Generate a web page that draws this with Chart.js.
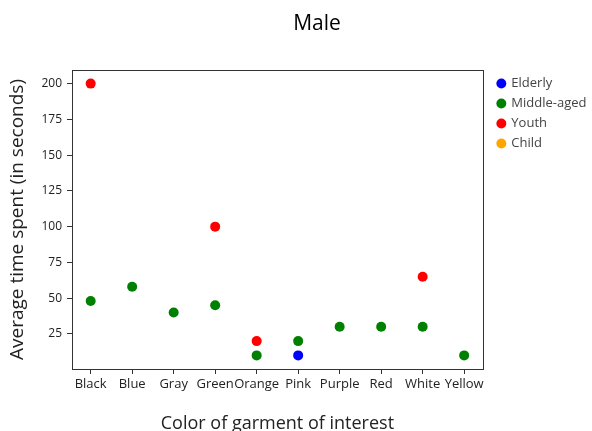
<!DOCTYPE html>
<html>
<head>
<meta charset="utf-8">
<script src="https://cdn.jsdelivr.net/npm/chart.js@4.4.0/dist/chart.umd.min.js"></script>
<style>
  html, body { margin: 0; padding: 0; background: #fff; }
  #wrap { width: 592px; height: 431px; }
</style>
</head>
<body>
<div id="wrap"><canvas id="scatterChart" width="592" height="431"></canvas></div>
<script>
// Data (seconds per garment colour)
const colours = ['Black', 'Blue', 'Gray', 'Green', 'Orange', 'Pink', 'Purple', 'Red', 'White', 'Yellow'];
const elderlyTime = [null, null, null, null, null, 10, null, null, null, null];
const middleAgedTime = [48, 58, 40, 45, 10, 20, 30, 30, 30, 10];
const youthTime = [200, null, null, 100, 20, null, null, null, 65, null];
const childTime = [null, null, null, null, null, null, null, null, null, null];
const yTicks = [25, 50, 75, 100, 125, 150, 175, 200];

const FONT = "'Open Sans', 'Noto Sans', sans-serif";

// turn a value list into {x, y} points, skipping gaps
function toPoints(values) {
  return values
    .map((v, i) => (v === null ? null : { x: i, y: v }))
    .filter(p => p !== null);
}

function makeSet(label, values, colour) {
  return {
    label: label,
    data: toPoints(values),
    backgroundColor: colour,
    borderColor: colour,
    pointRadius: 5,
    pointHoverRadius: 5,
    pointBorderWidth: 0
  };
}

// matplotlib-style box round the axes plus the figure title
const framePlugin = {
  id: 'frame',
  beforeDatasetsDraw(chart) {
    const a = chart.chartArea;
    const ctx = chart.ctx;
    ctx.save();
    ctx.strokeStyle = '#333';
    ctx.lineWidth = 1;
    ctx.strokeRect(Math.round(a.left) + 0.5, Math.round(a.top) + 0.5,
      Math.round(a.right - a.left), Math.round(a.bottom - a.top));
    ctx.restore();
  },
  afterDraw(chart) {
    const ctx = chart.ctx;
    ctx.save();
    ctx.fillStyle = '#000';
    ctx.font = '21px ' + FONT;
    ctx.textAlign = 'center';
    ctx.textBaseline = 'middle';
    ctx.fillText('Male', 317, 24);
    ctx.restore();
  }
};

const ctx = document.getElementById('scatterChart').getContext('2d');
const chart = new Chart(ctx, {
  type: 'scatter',
  data: {
    datasets: [
      makeSet('Elderly', elderlyTime, '#0000ff'),
      makeSet('Middle-aged', middleAgedTime, '#008000'),
      makeSet('Youth', youthTime, '#ff0000'),
      makeSet('Child', childTime, '#ffa500')
    ]
  },
  options: {
    responsive: false,
    animation: false,
    devicePixelRatio: 1,
    layout: { padding: { top: 70, left: 0, right: 3, bottom: -4 } },
    plugins: {
      tooltip: { enabled: false },
      legend: {
        position: 'right',
        align: 'start',
        labels: {
          usePointStyle: true,
          pointStyle: 'circle',
          boxWidth: 7,
          boxHeight: 7,
          padding: 7,
          color: '#444',
          font: { family: FONT, size: 13 }
        }
      }
    },
    scales: {
      x: {
        type: 'linear',
        min: -0.45,
        max: 9.45,
        afterBuildTicks: scale => {
          scale.ticks = colours.map((c, i) => ({ value: i }));
        },
        afterFit: scale => { scale.height = 66; },
        ticks: {
          color: '#222',
          font: { family: FONT, size: 13 },
          maxRotation: 0,
          autoSkip: false,
          padding: 2,
          callback: value => colours[value]
        },
        grid: { drawOnChartArea: false, drawTicks: true, tickLength: 5, color: '#333' },
        border: { display: false },
        title: {
          display: true,
          text: 'Color of garment of interest',
          color: '#222',
          font: { family: FONT, size: 18 },
          padding: { top: 0, bottom: 0 }
        }
      },
      y: {
        min: 0.5,
        max: 209.5,
        afterBuildTicks: scale => {
          scale.ticks = yTicks.map(v => ({ value: v }));
        },
        afterFit: scale => { scale.width = 72; },
        ticks: {
          color: '#222',
          font: { family: FONT, size: 12 },
          padding: 5
        },
        grid: { drawOnChartArea: false, drawTicks: true, tickLength: 5, color: '#333' },
        border: { display: false },
        title: {
          display: true,
          text: 'Average time spent (in seconds)',
          color: '#222',
          font: { family: FONT, size: 19 },
          padding: { top: 6, bottom: 0 }
        }
      },
      gap: {
        type: 'linear',
        position: 'right',
        display: true,
        ticks: { display: false },
        grid: { display: false },
        border: { display: false },
        afterFit: scale => { scale.width = 8; }
      }
    }
  },
  plugins: [framePlugin]
});
</script>
</body>
</html>
